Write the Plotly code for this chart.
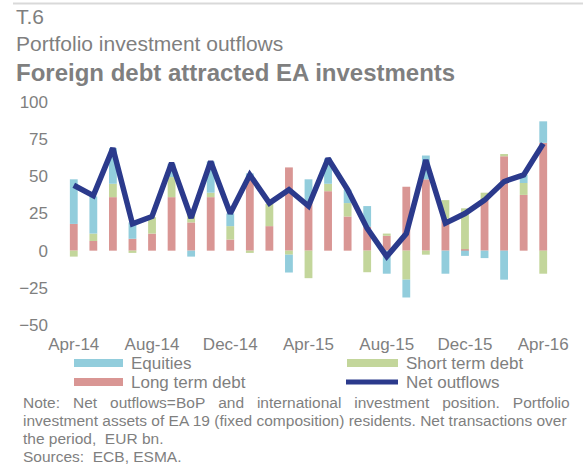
import plotly.graph_objects as go

months = ["Apr-14", "May-14", "Jun-14", "Jul-14", "Aug-14", "Sep-14", "Oct-14", "Nov-14",
          "Dec-14", "Jan-15", "Feb-15", "Mar-15", "Apr-15", "May-15", "Jun-15", "Jul-15",
          "Aug-15", "Sep-15", "Oct-15", "Nov-15", "Dec-15", "Jan-16", "Feb-16", "Mar-16", "Apr-16"]
long_term_debt = [18, 6.5, 36, 8, 11.5, 36, 19, 36, 7.5, 49, 16.5, 56, 33, 40, 23, 16,
                  10, 43, 48, 21.5, 1, 34.5, 63.5, 37.5, 72.5]
short_term_debt = [-4, 5, 9, -1.5, 11, 13.5, 6, 3, 9, -1.5, 15, -2.7, -18.5, 5, 9, -14.5,
                   1.5, -19.5, -2.7, 12.5, 27.5, 4.5, 1.5, 8, -15.5]
equities = [30, 25, 24, 11, 0, 9, -4, 21, 8.5, 3, 0, -12, 15, 17, 9, 14,
            -15.5, -12, 16, -15.5, -3.5, -5, -19.5, 5.5, 14.5]
net_outflows = [44, 37, 69, 18, 23, 59, 22, 60, 25, 51, 32, 41, 30, 62, 41, 15,
                -4, 11.5, 61, 18.5, 25, 34, 46.5, 51, 72]
tick_labels = months[::4]

C_EQ = "#92CDDC"
C_ST = "#C3D69B"
C_LT = "#D99694"
C_NET = "#2B3A8C"
GREY = "#7F7F7F"
FONT = "Liberation Sans, Arial, sans-serif"

W, H = 583, 464
L, R, T, B = 64, 30, 102, 139
PW, PH = W - L - R, H - T - B


def px(x):
    return (x - L) / PW


def py(y):
    return (H - B - y) / PH


fig = go.Figure()
fig.add_trace(go.Bar(x=months, y=long_term_debt, name="Long term debt",
                     marker=dict(color=C_LT, line=dict(width=0))))
fig.add_trace(go.Bar(x=months, y=short_term_debt, name="Short term debt",
                     marker=dict(color=C_ST, line=dict(width=0))))
fig.add_trace(go.Bar(x=months, y=equities, name="Equities",
                     marker=dict(color=C_EQ, line=dict(width=0))))
fig.add_trace(go.Scatter(x=months, y=net_outflows, name="Net outflows", mode="lines",
                         line=dict(color=C_NET, width=5.5)))

shapes = [
    dict(type="line", xref="paper", yref="paper", x0=px(13), x1=px(583), y0=py(3.5), y1=py(3.5),
         line=dict(color="#D9D9D9", width=2)),
]
annotations = []

# custom legend
legend_items = [
    ("Equities", C_EQ, "rect", 74, 123, 363, 129),
    ("Long term debt", C_LT, "rect", 74, 123, 382, 129),
    ("Short term debt", C_ST, "rect", 347, 398, 363, 404),
    ("Net outflows", C_NET, "line", 346, 398, 382, 404),
]
for name, col, kind, x0, x1, yc, tx in legend_items:
    if kind == "rect":
        shapes.append(dict(type="rect", xref="paper", yref="paper", x0=px(x0), x1=px(x1),
                           y0=py(yc - 4), y1=py(yc + 4), fillcolor=col, line=dict(width=0)))
    else:
        shapes.append(dict(type="line", xref="paper", yref="paper", x0=px(x0), x1=px(x1),
                           y0=py(yc), y1=py(yc), line=dict(color=col, width=5)))
    annotations.append(dict(text=name, xref="paper", yref="paper", x=px(tx), y=py(yc),
                            xanchor="left", yanchor="middle", showarrow=False,
                            font=dict(family=FONT, size=17, color=GREY)))

# titles
titles = [
    ("T.6", 16, 21),
    ("Portfolio investment outflows", 44, 21),
    ("<b>Foreign debt attracted EA investments</b>", 72, 24),
]
for txt, yc, sz in titles:
    annotations.append(dict(text=txt, xref="paper", yref="paper", x=px(14), y=py(yc),
                            xanchor="left", yanchor="middle", showarrow=False,
                            font=dict(family=FONT, size=sz, color=GREY)))

NB = "\u00a0"
notes = [
    ("Note:" + NB * 3 + "Net" + NB * 3 + "outflows=BoP" + NB * 3 + "and" + NB * 3 + "international"
     + NB * 3 + "investment" + NB * 3 + "position." + NB * 3 + "Portfolio", 402),
    ("investment assets of EA 19 (fixed composition) residents. Net transactions over", 420),
    ("the period,  EUR bn.", 438),
    ("Sources:  ECB, ESMA.", 456),
]
for txt, yc in notes:
    annotations.append(dict(text=txt, xref="paper", yref="paper", x=px(21), y=py(yc),
                            xanchor="left", yanchor="middle", showarrow=False,
                            font=dict(family=FONT, size=15.5, color=GREY)))

fig.update_layout(
    width=W, height=H,
    margin=dict(l=L, r=R, t=T, b=B, pad=0),
    barmode="relative", bargap=0.6,
    paper_bgcolor="white", plot_bgcolor="white",
    showlegend=False,
    font=dict(family=FONT, size=17, color=GREY),
    xaxis=dict(type="category", categoryorder="array", categoryarray=months,
               tickmode="array", tickvals=tick_labels, ticktext=tick_labels,
               showgrid=False, showline=False, zeroline=False, ticks="",
               tickangle=0, ticklabelstandoff=7,
               tickfont=dict(family=FONT, size=17, color=GREY)),
    yaxis=dict(range=[-50, 100], tickmode="linear", tick0=-50, dtick=25,
               showgrid=False, showline=False, zeroline=False, ticks="",
               ticklabelstandoff=15,
               tickfont=dict(family=FONT, size=17, color=GREY)),
    shapes=shapes, annotations=annotations,
)

fig.write_html("out.html")
